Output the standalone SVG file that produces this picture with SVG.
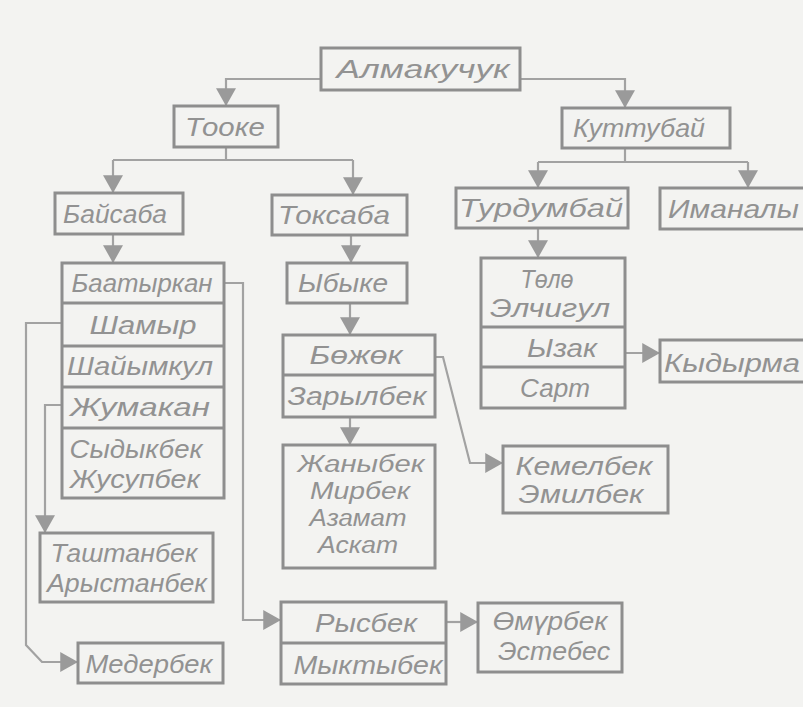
<svg xmlns="http://www.w3.org/2000/svg" width="803" height="707" viewBox="0 0 803 707">
<defs>
<marker id="arr" markerUnits="userSpaceOnUse" markerWidth="20" markerHeight="20" refX="16" refY="9" orient="auto" viewBox="0 0 16 18">
<path d="M0,0 L16,9 L0,18 z" fill="#9a9a9a"/>
</marker>
<style>
.bg{fill:#f3f3f1}
.box{fill:none;stroke:#8e8e8e;stroke-width:3}
.div{stroke:#8e8e8e;stroke-width:3}
.ln{fill:none;stroke:#a2a2a2;stroke-width:2.2}
.ar{marker-end:url(#arr)}
text{font-family:"Liberation Sans","DejaVu Sans",sans-serif;font-style:italic;font-size:26px;fill:#929292;text-anchor:middle}
.st{text-anchor:start}
.sm{font-size:23px}
</style>
</defs>
<rect class="bg" x="0" y="0" width="803" height="707"/>

<g id="connectors">
<path class="ln ar" d="M321,79 H226 V106"/>
<path class="ln ar" d="M520,79 H625 V108"/>
<path class="ln" d="M226,147 V160 M113,160 H353"/>
<path class="ln ar" d="M113,160 V193"/>
<path class="ln ar" d="M353,160 V195"/>
<path class="ln" d="M625,148 V162 M538,162 H748"/>
<path class="ln ar" d="M538,162 V188"/>
<path class="ln ar" d="M748,162 V188"/>
<path class="ln ar" d="M113,234 V263"/>
<path class="ln ar" d="M351,235 V263"/>
<path class="ln ar" d="M350,303 V335"/>
<path class="ln ar" d="M350,417 V445"/>
<path class="ln ar" d="M538,228 V258"/>
<path class="ln ar" d="M625,353 H660"/>
<path class="ln ar" d="M435,357 H443 L470,463 H503"/>
<path class="ln ar" d="M224,283 H243 V620 H281"/>
<path class="ln ar" d="M446,622 H478"/>
<path class="ln ar" d="M62,323 H26 V645 L42,662 H78"/>
<path class="ln ar" d="M62,405 H45 V533"/>
</g>

<g id="n-almakuchuk">
<rect class="box" x="321" y="48" width="199" height="42"/>
<text x="423" y="78" textLength="173" lengthAdjust="spacingAndGlyphs">Алмакучук</text>
</g>
<g id="n-tooke">
<rect class="box" x="174" y="106" width="104" height="41"/>
<text x="225" y="136" textLength="80" lengthAdjust="spacingAndGlyphs">Тооке</text>
</g>
<g id="n-kuttubay">
<rect class="box" x="562" y="108" width="168" height="40"/>
<text x="639" y="137" textLength="132" lengthAdjust="spacingAndGlyphs">Куттубай</text>
</g>
<g id="n-baysaba">
<rect class="box" x="55" y="193" width="128" height="41"/>
<text x="115" y="223" textLength="104" lengthAdjust="spacingAndGlyphs">Байсаба</text>
</g>
<g id="n-toksaba">
<rect class="box" x="272" y="195" width="135" height="40"/>
<text x="334" y="224" textLength="112" lengthAdjust="spacingAndGlyphs">Токсаба</text>
</g>
<g id="n-turdumbay">
<rect class="box" x="456" y="188" width="172" height="40"/>
<text x="541" y="217" textLength="164" lengthAdjust="spacingAndGlyphs">Турдумбай</text>
</g>
<g id="n-imanaly">
<rect class="box" x="660" y="188" width="170" height="41"/>
<text class="st" x="668" y="218" textLength="131" lengthAdjust="spacingAndGlyphs">Иманалы</text>
</g>
<g id="n-baatyrkan">
<rect class="box" x="62" y="263" width="162" height="235"/>
<line class="div" x1="62" y1="303" x2="224" y2="303"/>
<line class="div" x1="62" y1="346" x2="224" y2="346"/>
<line class="div" x1="62" y1="387" x2="224" y2="387"/>
<line class="div" x1="62" y1="428" x2="224" y2="428"/>
<text x="142" y="292" textLength="141" lengthAdjust="spacingAndGlyphs">Баатыркан</text>
<text x="143" y="334" textLength="107" lengthAdjust="spacingAndGlyphs">Шамыр</text>
<text x="140" y="375" textLength="146" lengthAdjust="spacingAndGlyphs">Шайымкул</text>
<text x="140" y="416" textLength="140" lengthAdjust="spacingAndGlyphs">Жумакан</text>
<text x="136" y="458" textLength="133" lengthAdjust="spacingAndGlyphs">Сыдыкбек</text>
<text x="135" y="488" textLength="130" lengthAdjust="spacingAndGlyphs">Жусупбек</text>
</g>
<g id="n-ybyke">
<rect class="box" x="287" y="263" width="120" height="40"/>
<text x="343" y="292" textLength="90" lengthAdjust="spacingAndGlyphs">Ыбыке</text>
</g>
<g id="n-bojok">
<rect class="box" x="283" y="335" width="152" height="82"/>
<line class="div" x1="283" y1="375" x2="435" y2="375"/>
<text x="356" y="364" textLength="93" lengthAdjust="spacingAndGlyphs">Бөжөк</text>
<text x="357" y="405" textLength="139" lengthAdjust="spacingAndGlyphs">Зарылбек</text>
</g>
<g id="n-janybek">
<rect class="box" x="283" y="445" width="152" height="123"/>
<text class="sm" x="361" y="472" textLength="127" lengthAdjust="spacingAndGlyphs">Жаныбек</text>
<text class="sm" x="360" y="499" textLength="100" lengthAdjust="spacingAndGlyphs">Мирбек</text>
<text class="sm" x="358" y="526" textLength="97" lengthAdjust="spacingAndGlyphs">Азамат</text>
<text class="sm" x="358" y="553" textLength="80" lengthAdjust="spacingAndGlyphs">Аскат</text>
</g>
<g id="n-tolo">
<rect class="box" x="481" y="258" width="144" height="150"/>
<line class="div" x1="481" y1="327" x2="625" y2="327"/>
<line class="div" x1="481" y1="367" x2="625" y2="367"/>
<text x="547" y="288" textLength="53" lengthAdjust="spacingAndGlyphs">Төлө</text>
<text x="550" y="317" textLength="120" lengthAdjust="spacingAndGlyphs">Элчигул</text>
<text x="562" y="357" textLength="70" lengthAdjust="spacingAndGlyphs">Ызак</text>
<text x="555" y="397" textLength="70" lengthAdjust="spacingAndGlyphs">Сарт</text>
</g>
<g id="n-kydyrma">
<rect class="box" x="660" y="340" width="170" height="42"/>
<text class="st" x="664" y="372" textLength="136" lengthAdjust="spacingAndGlyphs">Кыдырма</text>
</g>
<g id="n-kemelbek">
<rect class="box" x="503" y="446" width="165" height="67"/>
<text x="584" y="475" textLength="137" lengthAdjust="spacingAndGlyphs">Кемелбек</text>
<text x="581" y="503" textLength="125" lengthAdjust="spacingAndGlyphs">Эмилбек</text>
</g>
<g id="n-tashtanbek">
<rect class="box" x="40" y="533" width="173" height="69"/>
<text x="124" y="562" textLength="147" lengthAdjust="spacingAndGlyphs">Таштанбек</text>
<text x="127" y="592" textLength="160" lengthAdjust="spacingAndGlyphs">Арыстанбек</text>
</g>
<g id="n-mederbek">
<rect class="box" x="78" y="643" width="145" height="40"/>
<text x="149" y="673" textLength="127" lengthAdjust="spacingAndGlyphs">Медербек</text>
</g>
<g id="n-rysbek">
<rect class="box" x="281" y="602" width="165" height="82"/>
<line class="div" x1="281" y1="643" x2="446" y2="643"/>
<text x="366" y="632" textLength="102" lengthAdjust="spacingAndGlyphs">Рысбек</text>
<text x="368" y="674" textLength="149" lengthAdjust="spacingAndGlyphs">Мыктыбек</text>
</g>
<g id="n-omurbek">
<rect class="box" x="478" y="603" width="144" height="69"/>
<text x="550" y="630" textLength="115" lengthAdjust="spacingAndGlyphs">Өмүрбек</text>
<text x="554" y="660" textLength="112" lengthAdjust="spacingAndGlyphs">Эстебес</text>
</g>
</svg>
